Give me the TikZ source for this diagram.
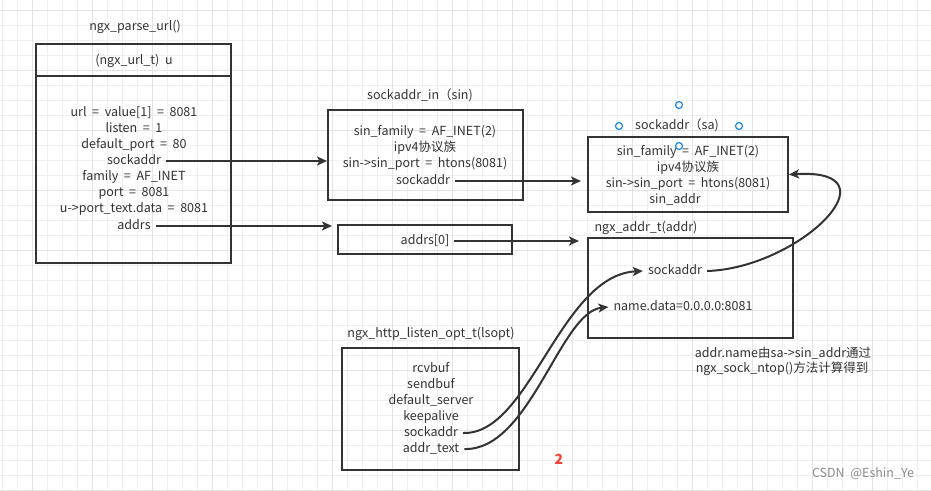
\documentclass[tikz,border=0pt]{standalone}
\usepackage{fontspec}
\setmainfont[WordSpace=2]{Noto Sans CJK SC}
\usetikzlibrary{arrows.meta,positioning}

\definecolor{ink}{HTML}{333333}
\definecolor{gridlight}{HTML}{EFEFEF}
\definecolor{griddark}{HTML}{E3E3E3}
\definecolor{handle}{HTML}{1E88E5}
\definecolor{marker}{HTML}{F44336}

\tikzset{
  box/.style={draw=ink, line width=2pt, inner sep=0pt},
  field/.style={text=ink, inner xsep=5pt, inner ysep=0pt, text height=9pt, text depth=3pt,
                font=\fontsize{12.5}{16}\selectfont},
  title/.style={field},
  link/.style={draw=ink, line width=2pt, -{Stealth[length=10pt,width=9pt,inset=2.5pt]}},
}

\begin{document}
\begin{tikzpicture}[x=1pt,y=-1pt]

    % --- Canvas and grid ---
    \useasboundingbox[fill=white] (0,0) rectangle (931,490);
    \foreach \gx in {2,17,...,931} \draw[gridlight, line width=1pt] (\gx,0) -- (\gx,490);
    \foreach \gy in {10,25,...,490} \draw[gridlight, line width=1pt] (0,\gy) -- (931,\gy);
    \foreach \gx in {32,92,...,931} \draw[griddark, line width=1pt] (\gx,0) -- (\gx,490);
    \foreach \gy in {10,70,...,490} \draw[griddark, line width=1pt] (0,\gy) -- (931,\gy);

    % --- Boxes ---
    \node[box, minimum width=195pt, minimum height=219pt] (u)     at (133.5,153.5) {};
    \node[box, minimum width=195pt, minimum height=90pt]  (sin)   at (425.5,155) {};
    \node[box, minimum width=200pt, minimum height=75pt]  (sa)    at (688,174.5) {};
    \node[box, minimum width=174pt, minimum height=29pt]  (addrs) at (425,239.5) {};
    \node[box, minimum width=205pt, minimum height=100pt] (addr)  at (690.5,288) {};
    \node[box, minimum width=177pt, minimum height=122pt] (lsopt) at (430.5,409) {};

    % header rule of u
    \draw[ink, line width=2pt] (u.west |- 0,76) -- (u.east |- 0,76);

    % --- Titles ---
    \node[title] (tparse) at (135,27)  {ngx\_parse\_url()};
    \node[title] (tsin)   at (420,96)  {sockaddr\_in（sin)};
    \node[title] (tsa)    at (677,126) {sockaddr（sa)};
    \node[title] (taddr)  at (646,228) {ngx\_addr\_t(addr)};
    \node[title] (tlsopt) at (431,334) {ngx\_http\_listen\_opt\_t(lsopt)};

    % --- Fields of u ---
    \node[field] (uhead)   at (134,61)  {(ngx\_url\_t) u};
    \node[field] (uurl)    at (134,113) {url = value[1] = 8081};
    \node[field] (ulisten) at (134,129) {listen = 1};
    \node[field] (uport80) at (134,145) {default\_port = 80};
    \node[field] (usock)   at (134,161) {sockaddr};
    \node[field] (ufamily) at (134,177) {family = AF\_INET};
    \node[field] (uport)   at (134,193) {port = 8081};
    \node[field] (utext)   at (134,209) {u->port\_text.data = 8081};
    \node[field] (uaddrs)  at (134,226) {addrs};

    % --- Fields of sin ---
    \node[field] (sinfam)  at (425,132) {sin\_family = AF\_INET(2)};
    \node[field] (sinipv)  at (425,148) {ipv4协议族};
    \node[field] (sinport) at (425,164) {sin->sin\_port = htons(8081)};
    \node[field] (sinsock) at (423,181) {sockaddr};

    % --- Fields of sa ---
    \node[field] (safam)   at (688,152) {sin\_family = AF\_INET(2)};
    \node[field] (saipv)   at (688,168) {ipv4协议族};
    \node[field] (saport)  at (688,184) {sin->sin\_port = htons(8081)};
    \node[field] (saaddr)  at (675,200) {sin\_addr};

    % --- addrs[0] and addr ---
    \node[field] (a0)      at (425,241) {addrs[0]};
    \node[field] (asock)   at (675,271) {sockaddr};
    \node[field] (aname)   at (683,307) {name.data=0.0.0.0:8081};

    % --- Fields of lsopt ---
    \node[field] (lrcv)    at (431,369) {rcvbuf};
    \node[field] (lsend)   at (431,385) {sendbuf};
    \node[field] (ldef)    at (431,401) {default\_server};
    \node[field] (lkeep)   at (431,417) {keepalive};
    \node[field] (lsock)   at (431,433) {sockaddr};
    \node[field] (ltext)   at (431,449) {addr\_text};

    % --- Notes ---
    \node[field] (note1) at (783,354) {addr.name由sa->sin\_addr通过};
    \node[field] (note2) at (782,369) {ngx\_sock\_ntop()方法计算得到};
    \node[field, text=marker, font=\fontsize{14}{16}\selectfont\bfseries] (two) at (559,461) {2};
    \node[field, text=black!45] (credit) at (863,474) {CSDN @Eshin\_Ye};

    % --- Selection handles round the sa title ---
    \foreach \hx/\hy in {679/105, 619/126, 739/126, 679/146}
        \draw[handle, line width=1.2pt] (\hx,\hy) circle (3.5pt);

    % --- Connectors ---
    \draw[link] (usock.east) -- (usock -| sin.west);
    \draw[link] (uaddrs.east) -- ([xshift=-5pt]uaddrs -| addrs.west);
    \draw[link] (sinsock.east) -- ([xshift=-6pt]sinsock -| sa.west);
    \draw[link] (a0.east) -- ([xshift=-8pt]a0 -| addr.west);
    \draw[link] (asock.east) .. controls (800,268) and (900,168) .. (sa.east);
    \draw[link] (lsock.east) .. controls (530,435) and (560,275) .. (asock.west);
    \draw[link] (ltext.east) .. controls (530,451) and (560,312) .. (aname.west);

\end{tikzpicture}
\end{document}
